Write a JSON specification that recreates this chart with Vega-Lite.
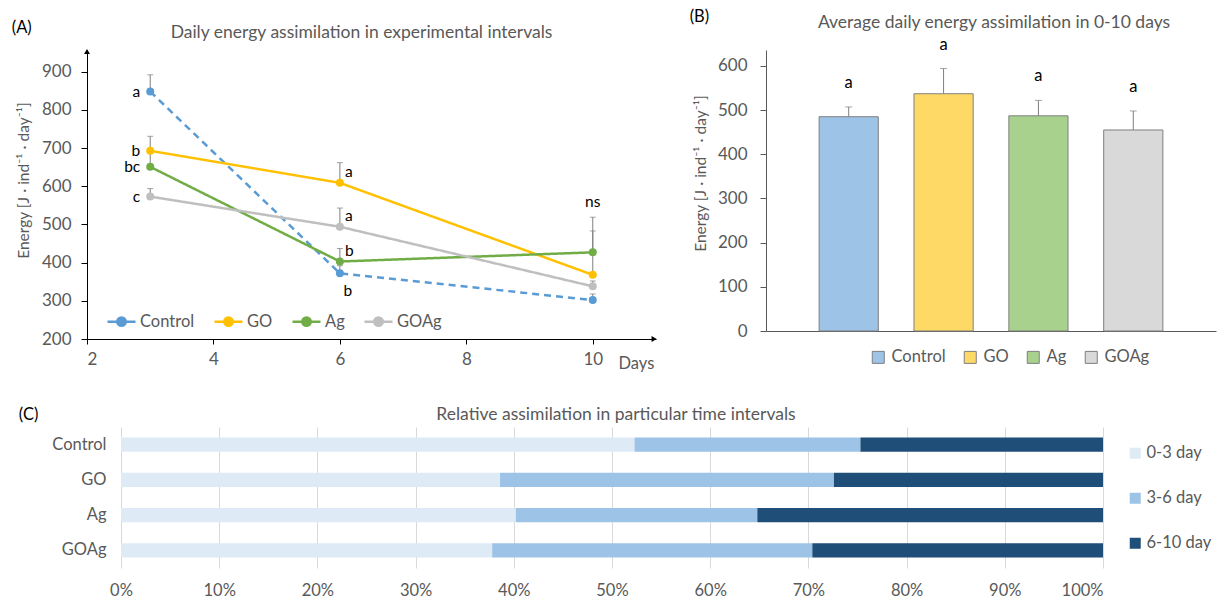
{
  "$schema": "https://vega.github.io/schema/vega-lite/v6.json",
  "padding": {"left": 11, "top": 8, "right": 0, "bottom": 0},
  "config": {
    "font": "Lato",
    "view": {"stroke": null},
    "axis": {"labelFont": "Lato", "titleFont": "Lato", "labelFontSize": 17, "titleFontSize": 15.5, "labelColor": "#595959", "titleColor": "#595959", "titleFontWeight": "normal", "grid": false},
    "legend": {"labelFont": "Lato", "labelFontSize": 16.5, "labelColor": "#595959"},
    "title": {"font": "Lato", "fontSize": 17.5, "fontWeight": "normal", "color": "#595959", "anchor": "middle", "frame": "group"},
    "text": {"font": "Lato"}
  },
  "datasets": {
    "lines": [
      {"group": "Control", "day": 3, "energy": 848, "upper": 892, "letter": "a"},
      {"group": "Control", "day": 6, "energy": 372, "upper": 392, "letter": "b"},
      {"group": "Control", "day": 10, "energy": 302, "upper": 318, "letter": ""},
      {"group": "GO", "day": 3, "energy": 693, "upper": 731, "letter": "b"},
      {"group": "GO", "day": 6, "energy": 609, "upper": 662, "letter": "a"},
      {"group": "GO", "day": 10, "energy": 368, "upper": 483, "letter": ""},
      {"group": "Ag", "day": 3, "energy": 651, "upper": 690, "letter": "bc"},
      {"group": "Ag", "day": 6, "energy": 403, "upper": 437, "letter": "b"},
      {"group": "Ag", "day": 10, "energy": 427, "upper": 519, "letter": "ns"},
      {"group": "GOAg", "day": 3, "energy": 573, "upper": 594, "letter": "c"},
      {"group": "GOAg", "day": 6, "energy": 494, "upper": 543, "letter": "a"},
      {"group": "GOAg", "day": 10, "energy": 338, "upper": 352, "letter": ""}
    ],
    "bars": [
      {"group": "Control", "energy": 485, "upper": 507, "letter": "a"},
      {"group": "GO", "energy": 537, "upper": 594, "letter": "a"},
      {"group": "Ag", "energy": 487, "upper": 522, "letter": "a"},
      {"group": "GOAg", "energy": 455, "upper": 498, "letter": "a"}
    ],
    "rel": [
      {"group": "Control", "interval": "0-3 day", "pct": 52.3},
      {"group": "Control", "interval": "3-6 day", "pct": 23.0},
      {"group": "Control", "interval": "6-10 day", "pct": 24.7},
      {"group": "GO", "interval": "0-3 day", "pct": 38.6},
      {"group": "GO", "interval": "3-6 day", "pct": 34.0},
      {"group": "GO", "interval": "6-10 day", "pct": 27.4},
      {"group": "Ag", "interval": "0-3 day", "pct": 40.2},
      {"group": "Ag", "interval": "3-6 day", "pct": 24.6},
      {"group": "Ag", "interval": "6-10 day", "pct": 35.2},
      {"group": "GOAg", "interval": "0-3 day", "pct": 37.8},
      {"group": "GOAg", "interval": "3-6 day", "pct": 32.6},
      {"group": "GOAg", "interval": "6-10 day", "pct": 29.6}
    ]
  },
  "resolve": {"scale": {"color": "independent"}, "legend": {"color": "independent"}},
  "spacing": 34,
  "vconcat": [
    {
      "bounds": "flush",
      "spacing": 110,
      "resolve": {"scale": {"color": "independent", "fill": "independent"}, "legend": {"color": "independent", "fill": "independent"}},
      "hconcat": [
        {
          "width": 569,
          "height": 289,
          "title": {"text": "Daily energy assimilation in experimental intervals", "offset": -22, "dx": -10},
          "layer": [
            {
              "data": {"name": "lines"},
              "mark": {"type": "rule", "color": "#7F7F7F", "strokeWidth": 1},
              "encoding": {
                "x": {
                  "field": "day", "type": "quantitative", "scale": {"domain": [2, 11]}, "title": "Days",
                  "axis": {"values": [2, 4, 6, 8, 10], "format": "d", "titleX": 531, "titleY": 24, "titleAlign": "left", "titleBaseline": "middle", "titleAngle": 0, "titleFontSize": 16.5, "domainColor": "#000000", "tickColor": "#000000", "tickSize": 5, "labelPadding": 7}
                },
                "y": {
                  "field": "energy", "type": "quantitative", "scale": {"domain": [200, 957]}, "title": "Energy [J · ind⁻¹ · day⁻¹]",
                  "axis": {"values": [200, 300, 400, 500, 600, 700, 800, 900], "format": "d", "titleY": 130, "titlePadding": 10, "tickSize": 6, "labelPadding": 10, "domainColor": "#000000", "tickColor": "#000000"}
                },
                "y2": {"field": "upper"}
              }
            },
            {
              "data": {"name": "lines"},
              "mark": {"type": "tick", "orient": "horizontal", "color": "#7F7F7F", "size": 6, "thickness": 1},
              "encoding": {
                "x": {"field": "day", "type": "quantitative", "scale": {"domain": [2, 11]}, "title": "Days"},
                "y": {"field": "upper", "type": "quantitative", "scale": {"domain": [200, 957]}, "title": "Energy [J · ind⁻¹ · day⁻¹]"}
              }
            },
            {
              "data": {"name": "lines"},
              "mark": {"type": "line", "strokeWidth": 2.5},
              "encoding": {
                "x": {"field": "day", "type": "quantitative", "scale": {"domain": [2, 11]}, "title": "Days"},
                "y": {"field": "energy", "type": "quantitative", "scale": {"domain": [200, 957]}, "title": "Energy [J · ind⁻¹ · day⁻¹]"},
                "color": {
                  "field": "group", "type": "nominal",
                  "scale": {"domain": ["Control", "GO", "Ag", "GOAg"], "range": ["#5B9BD5", "#FFC000", "#70AD47", "#BFBFBF"]},
                  "legend": {
                    "title": null, "orient": "none", "legendX": 19, "legendY": 256, "direction": "horizontal",
                    "symbolType": "M-1,0L-0.3,0M0.3,0L1,0M0.3,0A0.3,0.3,0,1,1,-0.3,0A0.3,0.3,0,1,1,0.3,0Z",
                    "symbolSize": 784, "columnPadding": 14, "labelOffset": 3, "padding": 0,
                    "encode": {
                      "symbols": {
                        "update": {
                          "fill": {"signal": "datum.value === 'Control' ? '#5B9BD5' : datum.value === 'GO' ? '#FFC000' : datum.value === 'Ag' ? '#70AD47' : '#BFBFBF'"},
                          "stroke": {"signal": "datum.value === 'Control' ? '#5B9BD5' : datum.value === 'GO' ? '#FFC000' : datum.value === 'Ag' ? '#70AD47' : '#BFBFBF'"},
                          "strokeWidth": {"value": 2.5},
                          "opacity": {"value": 1}
                        }
                      }
                    }
                  }
                },
                "strokeDash": {
                  "field": "group", "type": "nominal",
                  "scale": {"domain": ["Control", "GO", "Ag", "GOAg"], "range": [[7, 5], [1, 0], [1, 0], [1, 0]]},
                  "legend": null
                }
              }
            },
            {
              "data": {"name": "lines"},
              "mark": {"type": "point", "filled": true, "size": 64, "opacity": 1},
              "encoding": {
                "x": {"field": "day", "type": "quantitative", "scale": {"domain": [2, 11]}, "title": "Days"},
                "y": {"field": "energy", "type": "quantitative", "scale": {"domain": [200, 957]}, "title": "Energy [J · ind⁻¹ · day⁻¹]"},
                "color": {
                  "field": "group", "type": "nominal",
                  "scale": {"domain": ["Control", "GO", "Ag", "GOAg"], "range": ["#5B9BD5", "#FFC000", "#70AD47", "#BFBFBF"]},
                  "legend": {
                    "title": null, "orient": "none", "legendX": 19, "legendY": 256, "direction": "horizontal",
                    "symbolType": "M-1,0L-0.3,0M0.3,0L1,0M0.3,0A0.3,0.3,0,1,1,-0.3,0A0.3,0.3,0,1,1,0.3,0Z",
                    "symbolSize": 784, "columnPadding": 14, "labelOffset": 3, "padding": 0,
                    "encode": {
                      "symbols": {
                        "update": {
                          "fill": {"signal": "datum.value === 'Control' ? '#5B9BD5' : datum.value === 'GO' ? '#FFC000' : datum.value === 'Ag' ? '#70AD47' : '#BFBFBF'"},
                          "stroke": {"signal": "datum.value === 'Control' ? '#5B9BD5' : datum.value === 'GO' ? '#FFC000' : datum.value === 'Ag' ? '#70AD47' : '#BFBFBF'"},
                          "strokeWidth": {"value": 2.5},
                          "opacity": {"value": 1}
                        }
                      }
                    }
                  }
                }
              }
            },
            {
              "data": {"name": "lines"},
              "transform": [{"filter": "datum.day === 3"}],
              "mark": {"type": "text", "align": "right", "baseline": "middle", "dx": -10, "fontSize": 15.5, "color": "#000000"},
              "encoding": {
                "x": {"field": "day", "type": "quantitative", "scale": {"domain": [2, 11]}, "title": "Days"},
                "y": {"field": "energy", "type": "quantitative", "scale": {"domain": [200, 957]}, "title": "Energy [J · ind⁻¹ · day⁻¹]"},
                "text": {"field": "letter"}
              }
            },
            {
              "data": {"name": "lines"},
              "transform": [{"filter": "datum.day === 6 && datum.group !== 'Control'"}],
              "mark": {"type": "text", "align": "left", "baseline": "middle", "dx": 5, "dy": -11, "fontSize": 15.5, "color": "#000000"},
              "encoding": {
                "x": {"field": "day", "type": "quantitative", "scale": {"domain": [2, 11]}, "title": "Days"},
                "y": {"field": "energy", "type": "quantitative", "scale": {"domain": [200, 957]}, "title": "Energy [J · ind⁻¹ · day⁻¹]"},
                "text": {"field": "letter"}
              }
            },
            {
              "data": {"name": "lines"},
              "transform": [{"filter": "datum.day === 6 && datum.group === 'Control'"}],
              "mark": {"type": "text", "align": "center", "baseline": "middle", "dx": 8, "dy": 18, "fontSize": 15.5, "color": "#000000"},
              "encoding": {
                "x": {"field": "day", "type": "quantitative", "scale": {"domain": [2, 11]}, "title": "Days"},
                "y": {"field": "energy", "type": "quantitative", "scale": {"domain": [200, 957]}, "title": "Energy [J · ind⁻¹ · day⁻¹]"},
                "text": {"field": "letter"}
              }
            },
            {
              "data": {"name": "lines"},
              "transform": [{"filter": "datum.letter === 'ns'"}],
              "mark": {"type": "text", "align": "center", "baseline": "middle", "dy": -15, "fontSize": 15.5, "color": "#000000"},
              "encoding": {
                "x": {"field": "day", "type": "quantitative", "scale": {"domain": [2, 11]}, "title": "Days"},
                "y": {"field": "upper", "type": "quantitative", "scale": {"domain": [200, 957]}, "title": "Energy [J · ind⁻¹ · day⁻¹]"},
                "text": {"field": "letter"}
              }
            },
            {
              "data": {"values": [{"label": "(A)"}]},
              "mark": {"type": "text", "align": "left", "baseline": "middle", "fontSize": 16.5, "color": "#000000"},
              "encoding": {
                "x": {"datum": 0.81, "type": "quantitative", "scale": {"domain": [2, 11]}},
                "y": {"datum": 1015, "type": "quantitative", "scale": {"domain": [200, 957]}},
                "text": {"field": "label"}
              }
            },
            {
              "data": {"values": [{"label": "y-arrow"}]},
              "mark": {"type": "point", "shape": "triangle-up", "filled": true, "size": 35, "color": "#000000", "opacity": 1},
              "encoding": {
                "x": {"datum": 2, "type": "quantitative", "scale": {"domain": [2, 11]}},
                "y": {"datum": 953, "type": "quantitative", "scale": {"domain": [200, 957]}}
              }
            },
            {
              "data": {"values": [{"label": "x-arrow"}]},
              "mark": {"type": "point", "shape": "triangle-right", "filled": true, "size": 35, "color": "#000000", "opacity": 1},
              "encoding": {
                "x": {"datum": 10.97, "type": "quantitative", "scale": {"domain": [2, 11]}},
                "y": {"datum": 200, "type": "quantitative", "scale": {"domain": [200, 957]}}
              }
            }
          ]
        },
        {
          "width": 450,
          "height": 281,
          "title": {"text": "Average daily energy assimilation in 0-10 days", "offset": -23, "dx": 3},
          "layer": [
            {
              "data": {"name": "bars"},
              "mark": {"type": "bar", "stroke": "#7F7F7F", "strokeWidth": 1},
              "encoding": {
                "x": {
                  "field": "group", "type": "nominal", "sort": ["Control", "GO", "Ag", "GOAg"], "title": null,
                  "scale": {"paddingInner": 0.376, "paddingOuter": 0.56},
                  "axis": {"labels": false, "ticks": false, "domainColor": "#595959"}
                },
                "y": {
                  "field": "energy", "type": "quantitative", "scale": {"domain": [0, 636]}, "title": "Energy [J · ind⁻¹ · day⁻¹]",
                  "axis": {"values": [0, 100, 200, 300, 400, 500, 600], "format": "d", "titleY": 123, "titlePadding": 9, "tickSize": 6, "labelPadding": 13, "domainColor": "#595959", "tickColor": "#595959"}
                },
                "fill": {
                  "field": "group", "type": "nominal",
                  "scale": {"domain": ["Control", "GO", "Ag", "GOAg"], "range": ["#9DC3E6", "#FFD966", "#A9D18E", "#D9D9D9"]},
                  "legend": {"title": null, "orient": "none", "legendX": 104, "legendY": 299, "direction": "horizontal", "symbolType": "square", "symbolSize": 144, "symbolStrokeColor": "#7F7F7F", "symbolStrokeWidth": 1, "columnPadding": 16, "labelOffset": 5, "padding": 0}
                }
              }
            },
            {
              "data": {"name": "bars"},
              "mark": {"type": "rule", "color": "#7F7F7F", "strokeWidth": 1},
              "encoding": {
                "x": {"field": "group", "type": "nominal", "sort": ["Control", "GO", "Ag", "GOAg"], "title": null},
                "y": {"field": "energy", "type": "quantitative", "scale": {"domain": [0, 636]}, "title": "Energy [J · ind⁻¹ · day⁻¹]"},
                "y2": {"field": "upper"}
              }
            },
            {
              "data": {"name": "bars"},
              "mark": {"type": "tick", "orient": "horizontal", "color": "#7F7F7F", "size": 7, "thickness": 1},
              "encoding": {
                "x": {"field": "group", "type": "nominal", "sort": ["Control", "GO", "Ag", "GOAg"], "title": null},
                "y": {"field": "upper", "type": "quantitative", "scale": {"domain": [0, 636]}, "title": "Energy [J · ind⁻¹ · day⁻¹]"}
              }
            },
            {
              "data": {"name": "bars"},
              "mark": {"type": "text", "baseline": "middle", "dy": -24, "fontSize": 16.5, "color": "#000000"},
              "encoding": {
                "x": {"field": "group", "type": "nominal", "sort": ["Control", "GO", "Ag", "GOAg"], "title": null},
                "y": {"field": "upper", "type": "quantitative", "scale": {"domain": [0, 636]}, "title": "Energy [J · ind⁻¹ · day⁻¹]"},
                "text": {"field": "letter"}
              }
            },
            {
              "data": {"values": [{"label": "(B)"}]},
              "mark": {"type": "text", "align": "left", "baseline": "middle", "dx": -159, "fontSize": 16.5, "color": "#000000"},
              "encoding": {
                "x": {"datum": "Control", "type": "nominal"},
                "y": {"datum": 711, "type": "quantitative", "scale": {"domain": [0, 636]}},
                "text": {"field": "label"}
              }
            }
          ]
        }
      ]
    },
    {
      "width": 1016,
      "height": 141,
      "title": {"text": "Relative assimilation in particular time intervals", "fontSize": 17.5, "offset": -17, "dx": 21},
      "layer": [
        {
          "data": {"name": "rel"},
          "mark": {"type": "bar"},
          "encoding": {
            "x": {
              "field": "pct", "type": "quantitative", "stack": "normalize", "scale": {"domain": [-0.0346, 1]}, "title": null,
              "axis": {"format": ".0%", "values": [0, 0.1, 0.2, 0.3, 0.4, 0.5, 0.6, 0.7, 0.8, 0.9, 1], "grid": true, "gridColor": "#D9D9D9", "domain": false, "ticks": false, "tickSize": 0, "labelPadding": 14, "labelFontSize": 16.5}
            },
            "y": {
              "field": "group", "type": "nominal", "sort": ["Control", "GO", "Ag", "GOAg"], "title": null,
              "scale": {"paddingInner": 0.6, "paddingOuter": 0.3},
              "axis": {"domain": false, "ticks": false, "tickSize": 0, "labelPadding": 15, "offset": -34, "labelFontSize": 16.5}
            },
            "color": {
              "field": "interval", "type": "nominal",
              "scale": {"domain": ["0-3 day", "3-6 day", "6-10 day"], "range": ["#DEEBF7", "#9DC3E6", "#1F4E79"]},
              "legend": {"title": null, "orient": "right", "offset": 6, "padding": 18, "rowPadding": 28, "symbolType": "square", "symbolSize": 121, "symbolStrokeWidth": 0, "labelOffset": 3}
            },
            "order": {"field": "interval", "type": "nominal"}
          }
        },
        {
          "data": {"values": [{"label": "(C)"}]},
          "mark": {"type": "text", "align": "left", "baseline": "middle", "dy": -30, "fontSize": 16.5, "color": "#000000"},
          "encoding": {
            "x": {"datum": -0.104, "type": "quantitative", "scale": {"domain": [-0.0346, 1]}},
            "y": {"datum": "Control", "type": "nominal"},
            "text": {"field": "label"}
          }
        }
      ]
    }
  ]
}
